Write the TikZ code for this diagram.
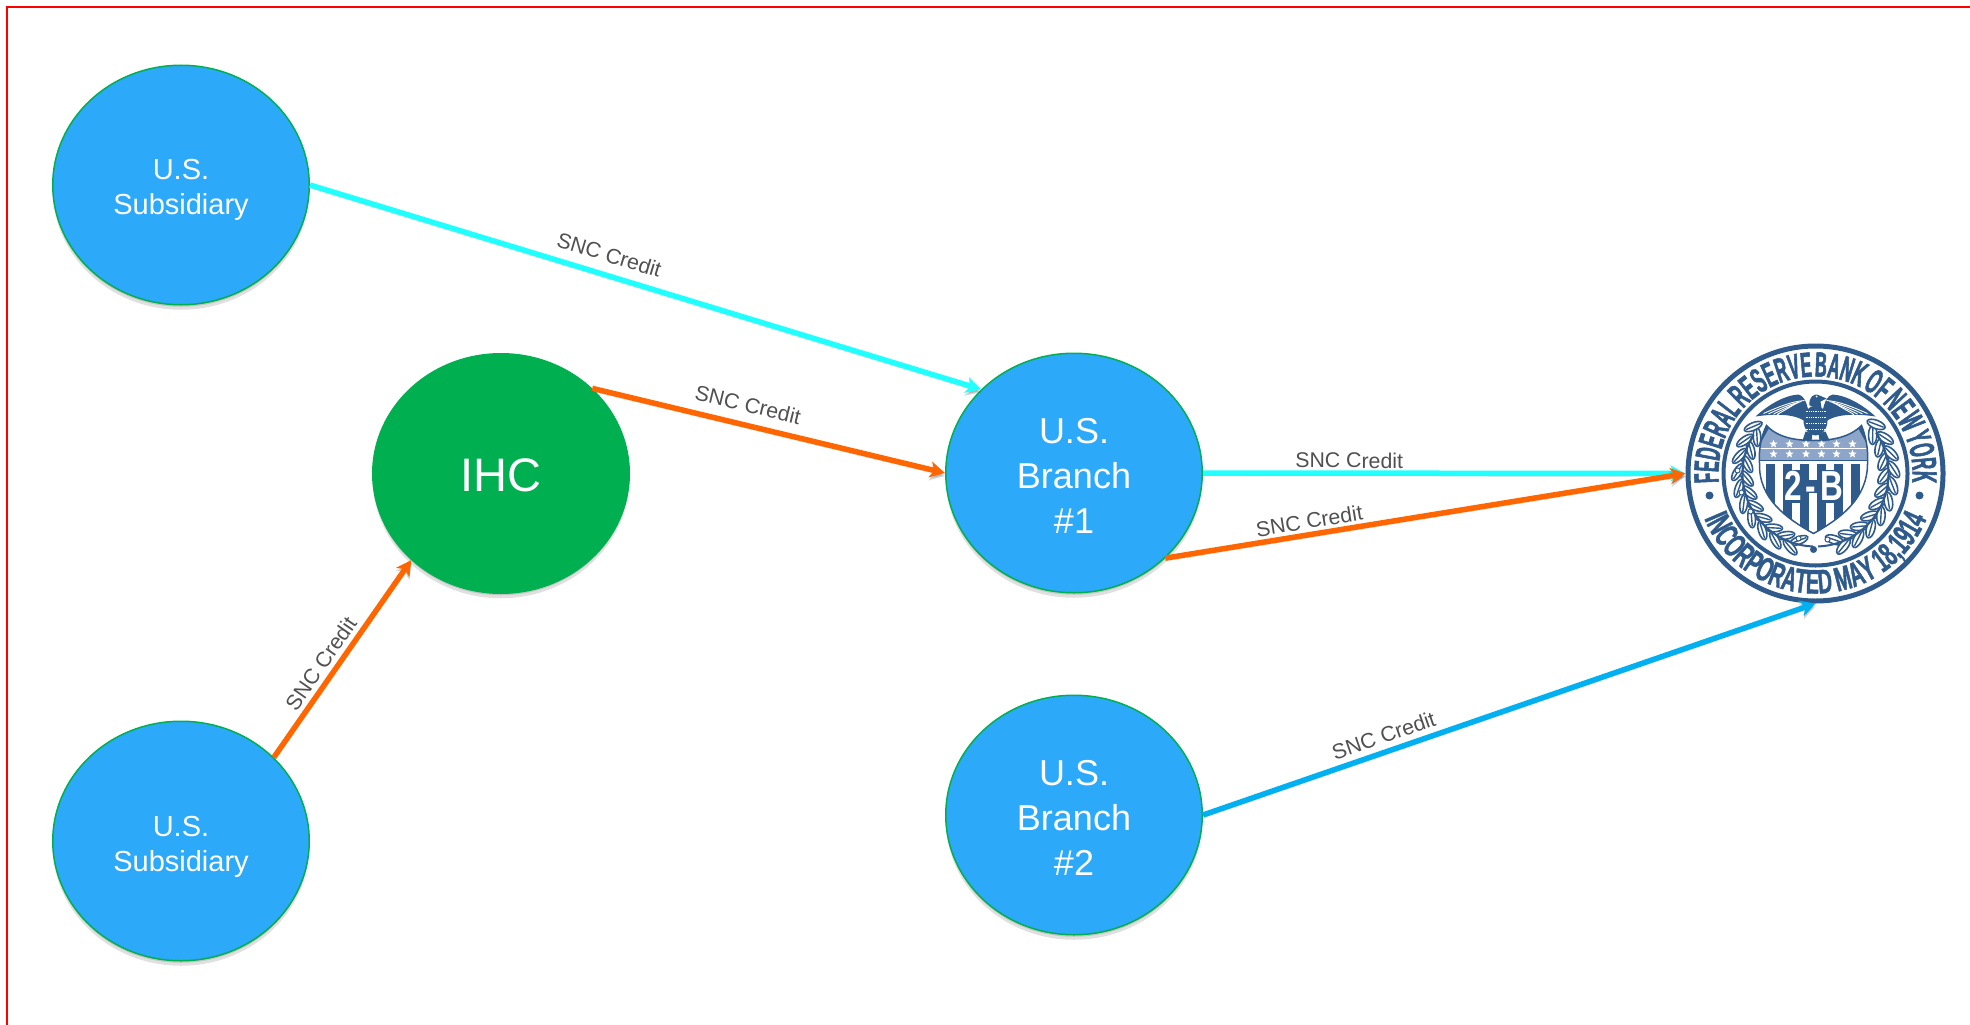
\documentclass[tikz,border=0pt]{standalone}
\usepackage{fontspec}
\setmainfont{Liberation Sans}
\newfontfamily\sealtopfont[FakeStretch=0.47,FakeBold=1.6,WordSpace=0.45]{Liberation Sans}
\newfontfamily\sealbotfont[FakeStretch=0.58,FakeBold=1.2,WordSpace=0.9]{Liberation Sans}
\newfontfamily\sealmidfont[FakeStretch=0.75]{Liberation Sans}
\usetikzlibrary{arrows.meta,shapes.geometric,shadows,decorations.text}
\definecolor{nodeblue}{HTML}{2CA9F9}
\definecolor{nodegreen}{HTML}{00B050}
\definecolor{linecyan}{HTML}{22FFFF}
\definecolor{lineorange}{HTML}{FF6600}
\definecolor{lineblue}{HTML}{00B0F0}
\definecolor{labelgray}{HTML}{505050}
\definecolor{sealblue}{HTML}{2F5A8C}
\definecolor{sealband}{HTML}{8CA5C8}
\tikzset{
  entity/.style={ellipse,minimum width=256.5pt,minimum height=239.5pt,inner sep=0pt,align=center,text=white,
    draw=nodegreen,line width=1.5pt,
    drop shadow={shadow xshift=0pt,shadow yshift=-2pt,fill=black,opacity=0.12},
    drop shadow={shadow xshift=0pt,shadow yshift=-5pt,fill=black,opacity=0.12}},
  subsidiary/.style={entity,fill=nodeblue,font=\fontsize{29}{35}\selectfont,execute at begin node={\rule{0pt}{66pt}}},
  branch/.style={entity,fill=nodeblue,font=\fontsize{36}{45}\selectfont,execute at begin node={\rule{0pt}{121pt}}},
  holding/.style={entity,fill=nodegreen,font=\fontsize{47}{50}\selectfont,execute at begin node={\rule{0pt}{37pt}}},
  credit/.style={-{Stealth[length=15pt,width=16pt,inset=4pt]},line width=5.5pt,
    preaction={draw=black,opacity=0.16,transform canvas={yshift=-3pt}}},
  snc/.style={sloped,above,text=labelgray,font=\fontsize{21.3}{24}\selectfont},
  sealline/.style={draw=sealblue,fill=white,line width=1.6pt},
  sealrib/.style={draw=sealblue,line width=1.4pt},
  sealstar/.style={star,star points=5,star point ratio=2.25,fill=white,minimum size=8.5pt,inner sep=0pt},
  sealberry/.style={circle,draw=sealblue,fill=white,line width=1pt,minimum size=5pt,inner sep=0pt}
}
\begin{document}
\begin{tikzpicture}[x=1pt,y=-1pt]
\useasboundingbox (0,0) rectangle (1970,1025);

% Draw the frame
\draw[red,line width=2.2pt] (7,1025) -- (7,7) -- (1970,7);

% Draw the entities
\node[subsidiary] (subA) at (181,185) {U.S.\\Subsidiary};
\node[subsidiary] (subB) at (181,841) {U.S.\\Subsidiary};
\node[holding] (ihc) at (501,473.5) {IHC};
\node[branch] (branchA) at (1074,473) {U.S.\\Branch\\\#1};
\node[branch] (branchB) at (1074,815) {U.S.\\Branch\\\#2};
\node[circle,draw=sealblue,fill=white,line width=5pt,minimum size=255pt,inner sep=0pt] (seal) at (1815.5,473.5) {};

% Draw the seal
\begin{scope}[shift={(seal.center)}]
\draw[sealblue,line width=4pt] (0,0) circle (92);
\path[decorate,decoration={text along path,text align=center,
  text={|\sealtopfont\bfseries\fontsize{35}{35}\selectfont\color{sealblue}|FEDERAL RESERVE BANK OF NEW YORK}}]
  (174:97) arc[start angle=174,end angle=366,radius=97];
\path[decorate,decoration={text along path,text align=center,
  text={|\sealbotfont\bfseries\fontsize{34}{34}\selectfont\color{sealblue}|INCORPORATED MAY 18,1914}}]
  (166:120) arc[start angle=166,end angle=14,radius=120];
\fill[sealblue] (-106,22) circle (4) (104,22) circle (4);

% wreath
\foreach \a in {212,200,...,104} {
  \draw[sealline,shift={(\a:69)},rotate=125-\a] (0,0) ellipse[x radius=9.5,y radius=3.8];
  \draw[sealrib,shift={(\a:69)},rotate=125-\a] (-8,0) -- (8,0);
  \draw[sealline,shift={(\a+5:78)},rotate=55-\a] (0,0) ellipse[x radius=9.5,y radius=3.8];
  \draw[sealrib,shift={(\a+5:78)},rotate=55-\a] (-8,0) -- (8,0);
}
\foreach \a in {-34,-22,...,76} {
  \draw[sealline,shift={(\a:69)},rotate=55-\a] (0,0) ellipse[x radius=9.5,y radius=4.2];
  \draw[sealrib,shift={(\a:69)},rotate=55-\a] (-8,0) -- (8,0);
  \draw[sealline,shift={(\a-5:78)},rotate=125-\a] (0,0) ellipse[x radius=9.5,y radius=4.2];
  \draw[sealrib,shift={(\a-5:78)},rotate=125-\a] (-8,0) -- (8,0);
}
\draw[sealblue,line width=2pt] (212:73) arc[start angle=212,end angle=92,radius=73];
\draw[sealblue,line width=2pt] (-34:73) arc[start angle=-34,end angle=88,radius=73];
\node[sealberry] (berryA) at (-78,-3) {};
\node[sealberry] (berryB) at (-74,19) {};
\node[sealberry] (berryC) at (-65,38) {};
\node[sealberry] (berryD) at (-17,65) {};
\node[sealberry] (berryE) at (12,66) {};
\fill[sealblue] (-2,76) circle (3.5);

% shield
\begin{scope}
\clip (-49,-48) .. controls (-38,-36) and (-20,-33) .. (-2,-33) .. controls (16,-33) and (34,-36) .. (46,-48)
  .. controls (50,-38) and (53,-25) .. (52,-10) .. controls (52,25) and (25,45) .. (-2,60)
  .. controls (-29,45) and (-57,25) .. (-56,-10) .. controls (-57,-25) and (-54,-38) .. cycle;
\fill[white] (-60,-50) rectangle (60,65);
\fill[sealband] (-60,-50) rectangle (60,-13);
\draw[sealblue,line width=1.5pt] (-60,-13) -- (60,-13);
\draw[white,line width=1pt] (-60,-25) -- (60,-25);
\fill[sealblue] (-60,-50) -- (-44,-50) -- (-54,-32) -- (-60,-32) -- cycle;
\fill[sealblue] (60,-50) -- (40,-50) -- (50,-32) -- (60,-32) -- cycle;
\foreach \x in {-44.8,-27.8,-10.8,6.2,23.2,40.2}
  \fill[sealblue] (\x-4.5,-10) rectangle (\x+4.5,65);
\fill[sealblue] (-32.3,-4) rectangle (27.7,29);
\fill[white] (-6.3,-10) rectangle (1.7,6);
\fill[white] (-6.3,19) rectangle (1.7,65);
\end{scope}
\draw[sealblue,line width=1.5pt] (-49,-48) .. controls (-38,-36) and (-20,-33) .. (-2,-33) .. controls (16,-33) and (34,-36) .. (46,-48)
  .. controls (50,-38) and (53,-25) .. (52,-10) .. controls (52,25) and (25,45) .. (-2,60)
  .. controls (-29,45) and (-57,25) .. (-56,-10) .. controls (-57,-25) and (-54,-38) .. cycle;
\foreach \y/\r in {-29.5/a,-19.5/b}
  \foreach \x [count=\c] in {-42,-26,-9.5,6,21,37}
    \node[sealstar] (star\r\c) at (\x,\y) {};
\node[text=white,inner sep=0pt,font=\sealmidfont\bfseries\fontsize{42}{42}\selectfont] (rating) at (-2,12) {2\kern4pt-\kern4pt B};

% eagle
\foreach \s in {1,-1} {
  \begin{scope}[xscale=\s]
  \fill[sealblue] (60,-57) .. controls (48,-68) and (32,-78) .. (17,-79) .. controls (12,-78) and (9,-72) .. (7,-62)
    -- (8,-50) .. controls (18,-60) and (40,-60) .. cycle;
  \foreach \k in {0,1,2,3}
    \draw[white,line width=0.9pt] (11+\k*3,-73+\k*1) .. controls (24+\k*2,-72+\k*3) and (36+\k*2,-67+\k*3) .. (52-\k*5,-60+\k*0.4);
  \end{scope}
}
\fill[sealblue] (0,-53) ellipse[x radius=12,y radius=15];
\foreach \y in {-62,-56,-50,-44}
  \draw[white,line width=0.8pt,densely dotted] (-10,\y) -- (10,\y);
\fill[sealblue] (-6,-68) .. controls (-7,-76) and (-2,-81) .. (4,-78) -- (11,-75) -- (5,-72) -- (6,-65) -- cycle;
\fill[white] (1,-77) circle (1);
\fill[sealblue] (-10,-42) -- (-13,-33) -- (-4,-33) -- (-3,-40) -- cycle;
\fill[sealblue] (10,-42) -- (14,-33) -- (4,-33) -- (3,-40) -- cycle;
\end{scope}

% Draw the credit lines
\draw[credit,linecyan] (subA.east) -- node[snc,pos=0.437,inner sep=10pt] {SNC Credit} (branchA.138);
\draw[credit,lineorange] (ihc.43) -- node[snc,pos=0.428,inner sep=10pt] {SNC Credit} (branchA.west);
\draw[credit,lineorange] (subB.42) -- node[snc,pos=0.432,inner sep=4.6pt] {SNC Credit} (ihc.224);
\draw[credit,linecyan] (branchA.east) -- node[snc,pos=0.303,inner sep=2.2pt] {SNC Credit} (seal.west);
\draw[credit,lineorange] (branchA.-43) -- node[snc,pos=0.281,inner sep=3.1pt] {SNC Credit} (seal.west);
\draw[credit,lineblue] (branchB.east) -- node[snc,pos=0.3035,inner sep=5.5pt] {SNC Credit} (seal.south);

\end{tikzpicture}
\end{document}
